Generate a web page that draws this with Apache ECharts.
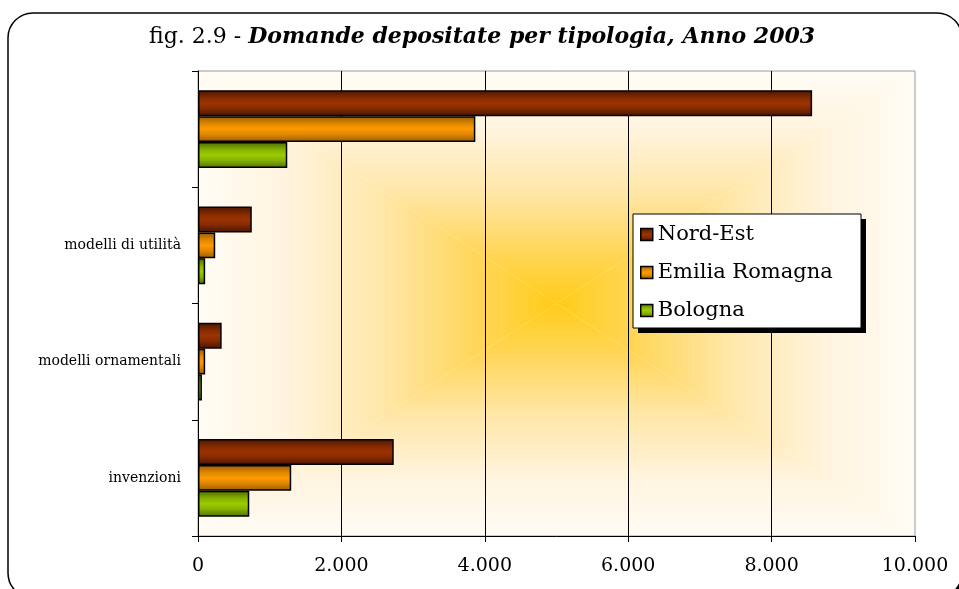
<!DOCTYPE html>
<html>
<head>
<meta charset="utf-8">
<title>Domande depositate per tipologia, Anno 2003</title>
<script src="https://cdn.jsdelivr.net/npm/echarts@6/dist/echarts.min.js"></script>
<style>
  html, body { margin: 0; padding: 0; background: #ffffff; }
  #chart { width: 959px; height: 589px; }
</style>
</head>
<body>
<div id="chart"></div>
<script>
// Categories, bottom to top (the top group carries no label)
var categories = ['invenzioni', 'modelli ornamentali', 'modelli di utilità', ''];

// Applications filed, 2003
var nordEst = [2730, 330, 750, 8565];
var emiliaRomagna = [1300, 100, 240, 3868];
var bologna = [715, 55, 100, 1245];

var seriesNames = ['Nord-Est', 'Emilia Romagna', 'Bologna'];
var xTicks = [0, 2000, 4000, 6000, 8000, 10000];

var FONT = 'DejaVu Serif';

// plot rectangle
var G = { left: 198, top: 71, right: 44, bottom: 53 };
var W = 959, H = 589;
var L = G.left, T = G.top, R = W - G.right, B = H - G.bottom;
var CX = (L + R) / 2, CY = (T + B) / 2;

// legend box
var LB = { x: 633, y: 214, w: 228, h: 114 };

function fmt(v) {
  return String(v).replace(/\B(?=(\d{3})+(?!\d))/g, '.');
}

function barFill(edge, mid, core) {
  return {
    type: 'linear', x: 0, y: 0, x2: 0, y2: 1,
    colorStops: [
      { offset: 0, color: edge },
      { offset: 0.3, color: mid },
      { offset: 0.5, color: core },
      { offset: 0.7, color: mid },
      { offset: 1, color: edge }
    ]
  };
}

var fills = {
  'Nord-Est': barFill('#4a1500', '#862b00', '#9c3300'),
  'Emilia Romagna': barFill('#9a5a00', '#e08800', '#ff9900'),
  'Bologna': barFill('#4f6e00', '#86b300', '#99cc00')
};

// rectangular "from centre" fill of the plot area
var bgStops = [
  { offset: 0, color: '#fffcf5' },
  { offset: 0.25, color: '#fff4de' },
  { offset: 0.5, color: '#ffe8ad' },
  { offset: 0.75, color: '#ffd862' },
  { offset: 1, color: '#ffcc18' }
];
function lin(x, y, x2, y2) {
  return { type: 'linear', x: x, y: y, x2: x2, y2: y2, global: true, colorStops: bgStops };
}

var chart = echarts.init(document.getElementById('chart'));

function barSeries(name, data) {
  return {
    name: name,
    type: 'bar',
    data: data,
    barGap: '0%',
    barCategoryGap: '33%',
    itemStyle: { color: fills[name], borderColor: '#000', borderWidth: 1.5 }
  };
}

chart.setOption({
  backgroundColor: '#ffffff',
  animation: false,
  title: {
    left: 144,
    top: 21,
    text: '{a|fig. 2.9 - }{b|Domande depositate per tipologia, Anno 2003}',
    textStyle: {
      fontWeight: 'normal',
      rich: {
        a: { fontFamily: FONT, fontSize: 22, fontWeight: 'normal', color: '#000' },
        b: { fontFamily: FONT, fontSize: 22, fontWeight: 'bold', fontStyle: 'italic', color: '#000' }
      }
    }
  },
  graphic: [
    // outer rounded frame with its shadow
    { type: 'rect', z: -20, silent: true,
      shape: { x: 12, y: 17, width: 954, height: 585, r: 25 },
      style: { fill: '#000' } },
    { type: 'rect', z: -19, silent: true,
      shape: { x: 8, y: 13, width: 954, height: 585, r: 25 },
      style: { fill: '#fff', stroke: '#000', lineWidth: 1.5 } },
    // plot-area fill, four triangles meeting at the centre
    { type: 'polygon', z: -10, silent: true,
      shape: { points: [[L, T], [R, T], [CX, CY]] }, style: { fill: lin(0, T, 0, CY) } },
    { type: 'polygon', z: -10, silent: true,
      shape: { points: [[L, B], [R, B], [CX, CY]] }, style: { fill: lin(0, B, 0, CY) } },
    { type: 'polygon', z: -10, silent: true,
      shape: { points: [[L, T], [L, B], [CX, CY]] }, style: { fill: lin(L, 0, CX, 0) } },
    { type: 'polygon', z: -10, silent: true,
      shape: { points: [[R, T], [R, B], [CX, CY]] }, style: { fill: lin(R, 0, CX, 0) } },
    // legend box with a hard drop shadow
    { type: 'rect', z: 50, silent: true,
      shape: { x: LB.x + 5, y: LB.y + 5, width: LB.w, height: LB.h },
      style: { fill: '#000' } },
    { type: 'rect', z: 51, silent: true,
      shape: { x: LB.x, y: LB.y, width: LB.w, height: LB.h },
      style: { fill: '#fff', stroke: '#000', lineWidth: 1 } }
  ],
  legend: {
    z: 60,
    orient: 'vertical',
    left: LB.x + 7,
    top: LB.y + 10,
    data: seriesNames.map(function (n) {
      return { name: n, itemStyle: { color: fills[n], borderColor: '#000', borderWidth: 1.5 } };
    }),
    icon: 'rect',
    itemWidth: 12,
    itemHeight: 12,
    itemGap: 17,
    itemTextGap: 10,
    padding: 0,
    textStyle: { fontFamily: FONT, fontSize: 21, color: '#000' }
  },
  grid: {
    left: G.left, top: G.top, right: G.right, bottom: G.bottom,
    show: true, backgroundColor: 'transparent', borderColor: '#999', borderWidth: 1
  },
  xAxis: {
    type: 'value',
    min: 0,
    max: 10000,
    interval: 2000,
    axisLine: { show: true, lineStyle: { color: '#000', width: 1 } },
    axisTick: { show: true, length: 6, lineStyle: { color: '#000' } },
    axisLabel: {
      margin: 21,
      fontFamily: FONT, fontSize: 19, color: '#000',
      customValues: xTicks,
      formatter: function (v) { return fmt(v); }
    },
    splitLine: {
      show: true,
      lineStyle: { color: ['transparent', '#000', '#000', '#000', '#000', 'transparent'], width: 1 }
    }
  },
  yAxis: {
    type: 'category',
    data: categories,
    axisLine: { show: true, lineStyle: { color: '#000', width: 1 } },
    axisTick: { show: true, length: 6, lineStyle: { color: '#000' } },
    axisLabel: { margin: 17, fontFamily: FONT, fontSize: 14, color: '#000' }
  },
  series: [
    barSeries('Nord-Est', nordEst),
    barSeries('Emilia Romagna', emiliaRomagna),
    barSeries('Bologna', bologna)
  ]
});
</script>
</body>
</html>
